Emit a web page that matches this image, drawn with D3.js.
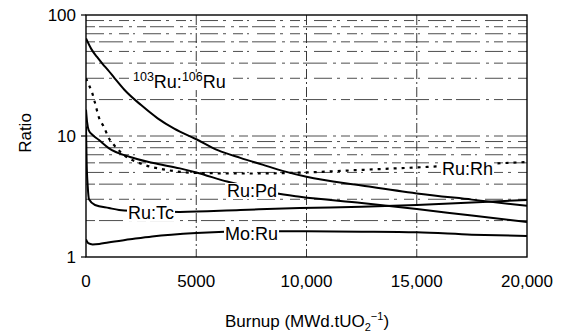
<!DOCTYPE html>
<html><head><meta charset="utf-8">
<script src="https://cdn.jsdelivr.net/npm/d3@7"></script>
<style>
html,body{margin:0;padding:0;background:#fff;}
svg{display:block;font-family:"Liberation Sans",Arial,Helvetica,sans-serif;}
</style></head>
<body>
<svg id="chart" width="570" height="335"></svg>
<script>
// ---- data ----
const xTicks = [0, 5000, 10000, 15000, 20000];
const xTickLabels = ["0", "5000", "10,000", "15,000", "20,000"];
const yTicks = [1, 10, 100];
const yTickLabels = ["1", "10", "100"];

const ru103_106_x = [0, 250, 500, 750, 1000, 1300, 1750, 2500, 3250, 4000, 5000, 6000, 7000, 8000, 9000, 10000, 12500, 15000, 17500, 20000];
const ru103_106_y = [64, 52, 45, 39.5, 35, 30, 24, 18, 14, 11.5, 9.4, 7.6, 6.6, 5.8, 5.1, 4.6, 3.9, 3.35, 2.98, 2.65];

const ruRh_x = [0, 150, 270, 400, 600, 800, 1050, 1250, 1700, 2500, 3500, 4300, 5000, 7500, 10000, 12500, 15000, 17500, 20000];
const ruRh_y = [30, 26, 23, 19, 14, 12, 9.5, 8.5, 7, 5.9, 5.3, 5.05, 4.95, 4.9, 5.0, 5.25, 5.5, 5.8, 6.1];

const ruPd_x = [0, 50, 120, 300, 576, 1030, 2000, 3000, 4260, 5000, 6400, 7500, 8570, 9700, 12500, 15000, 17500, 20000];
const ruPd_y = [16.5, 13, 11.2, 10.2, 9.3, 7.95, 6.7, 6.0, 5.4, 5.0, 4.2, 3.75, 3.38, 3.15, 2.8, 2.49, 2.2, 1.95];

const ruTc_x = [0, 30, 80, 136, 408, 1040, 1500, 3000, 4260, 7000, 9700, 12500, 15000, 17500, 20000];
const ruTc_y = [12, 6, 3.8, 3.0, 2.69, 2.54, 2.45, 2.38, 2.36, 2.45, 2.54, 2.6, 2.69, 2.82, 2.96];

const moRu_x = [0, 100, 300, 600, 1000, 2000, 3000, 5000, 7500, 10000, 12500, 15000, 17500, 20000];
const moRu_y = [1.4, 1.3, 1.27, 1.28, 1.32, 1.4, 1.48, 1.58, 1.63, 1.63, 1.62, 1.6, 1.53, 1.49];

// ---- layout ----
const svg = d3.select("#chart");
const L = 86, R = 527, T = 15, B = 257;
const x = d3.scaleLinear().domain([0, 20000]).range([L, R]);
const y = d3.scaleLog().domain([1, 100]).range([B, T]);

svg.append("defs").append("clipPath").attr("id", "clip")
  .append("rect").attr("x", L).attr("y", T).attr("width", R - L).attr("height", B - T);

// grid: horizontal minor lines
const minor = [];
[1, 10].forEach(d => { for (let k = 2; k <= 9; k++) minor.push(d * k); });
minor.push(10);
svg.append("g").selectAll("line").data(minor).join("line")
  .attr("x1", L).attr("x2", R)
  .attr("y1", d => y(d)).attr("y2", d => y(d))
  .attr("stroke", "#3a3a3a").attr("stroke-width", 0.9)
  .attr("stroke-dasharray", (d, i) => i % 2 ? "18,5,3,7,10,4,2,8" : "9,4,24,6,3,5");

// grid: vertical
svg.append("g").selectAll("line").data(xTicks.slice(1, 4)).join("line")
  .attr("x1", d => x(d)).attr("x2", d => x(d))
  .attr("y1", T).attr("y2", B)
  .attr("stroke", "#222").attr("stroke-width", 0.9)
  .attr("stroke-dasharray", "10,3,2,3");

// frame
svg.append("rect").attr("x", L).attr("y", T).attr("width", R - L).attr("height", B - T)
  .attr("fill", "none").attr("stroke", "#000").attr("stroke-width", 1.4);

// y ticks & labels
const yAxis = svg.append("g");
yAxis.selectAll("line").data(yTicks).join("line")
  .attr("x1", L - 5).attr("x2", L).attr("y1", d => y(d)).attr("y2", d => y(d))
  .attr("stroke", "#000").attr("stroke-width", 1.2);
yAxis.selectAll("text").data(yTicks).join("text")
  .attr("x", 76).attr("y", d => y(d)).attr("dy", "0.35em")
  .attr("text-anchor", "end").attr("font-size", 17)
  .text((d, i) => yTickLabels[i]);

// x tick labels
svg.append("g").selectAll("text").data(xTicks).join("text")
  .attr("x", d => x(d)).attr("y", 287)
  .attr("text-anchor", "middle").attr("font-size", 17)
  .text((d, i) => xTickLabels[i]);

// axis titles
svg.append("text").attr("transform", "translate(31,133) rotate(-90)")
  .attr("text-anchor", "middle").attr("font-size", 17).text("Ratio");
const xt = svg.append("text").attr("x", 307).attr("y", 327)
  .attr("text-anchor", "middle").attr("font-size", 17);
xt.append("tspan").text("Burnup (MWd.tUO");
xt.append("tspan").attr("font-size", 11).attr("dy", 4).text("2");
xt.append("tspan").attr("font-size", 11).attr("dy", -11).text("\u22121");
xt.append("tspan").attr("dy", 7).text(")");

// curves
const line = d3.line().x(d => x(d[0])).y(d => y(d[1])).curve(d3.curveMonotoneX);
const zip = (a, b) => a.map((v, i) => [v, b[i]]);
const series = [
  {xs: ru103_106_x, ys: ru103_106_y, dash: null},
  {xs: ruRh_x, ys: ruRh_y, dash: "3,5"},
  {xs: ruPd_x, ys: ruPd_y, dash: null},
  {xs: ruTc_x, ys: ruTc_y, dash: null},
  {xs: moRu_x, ys: moRu_y, dash: null}
];
const cg = svg.append("g").attr("clip-path", "url(#clip)");
series.forEach(s => {
  cg.append("path").attr("d", line(zip(s.xs, s.ys)))
    .attr("fill", "none").attr("stroke", "#000")
    .attr("stroke-width", s.dash ? 2.2 : 2)
    .attr("stroke-dasharray", s.dash);
});

// curve labels (anchored in data coordinates)
function label(bx, rv, parts) {
  const g = svg.append("g");
  const t = g.append("text").attr("x", x(bx)).attr("y", y(rv)).attr("font-size", 18);
  parts.forEach(p => {
    const sp = t.append("tspan").text(p.t);
    if (p.sup) sp.attr("font-size", 12.5).attr("baseline-shift", "55%");
  });
  const bb = t.node().getBBox();
  g.insert("rect", "text").attr("x", bb.x - 1).attr("y", bb.y + 2)
    .attr("width", bb.width + 2).attr("height", bb.height - 4).attr("fill", "#fff");
}
label(2132, 24.9, [{t: "103", sup: true}, {t: "Ru:"}, {t: "106", sup: true}, {t: "Ru"}]);
label(16145, 4.76, [{t: "Ru:Rh"}]);
label(6395, 3.13, [{t: "Ru:Pd"}]);
label(1905, 2.06, [{t: "Ru:Tc"}]);
label(6304, 1.38, [{t: "Mo:Ru"}]);
</script>
</body></html>
